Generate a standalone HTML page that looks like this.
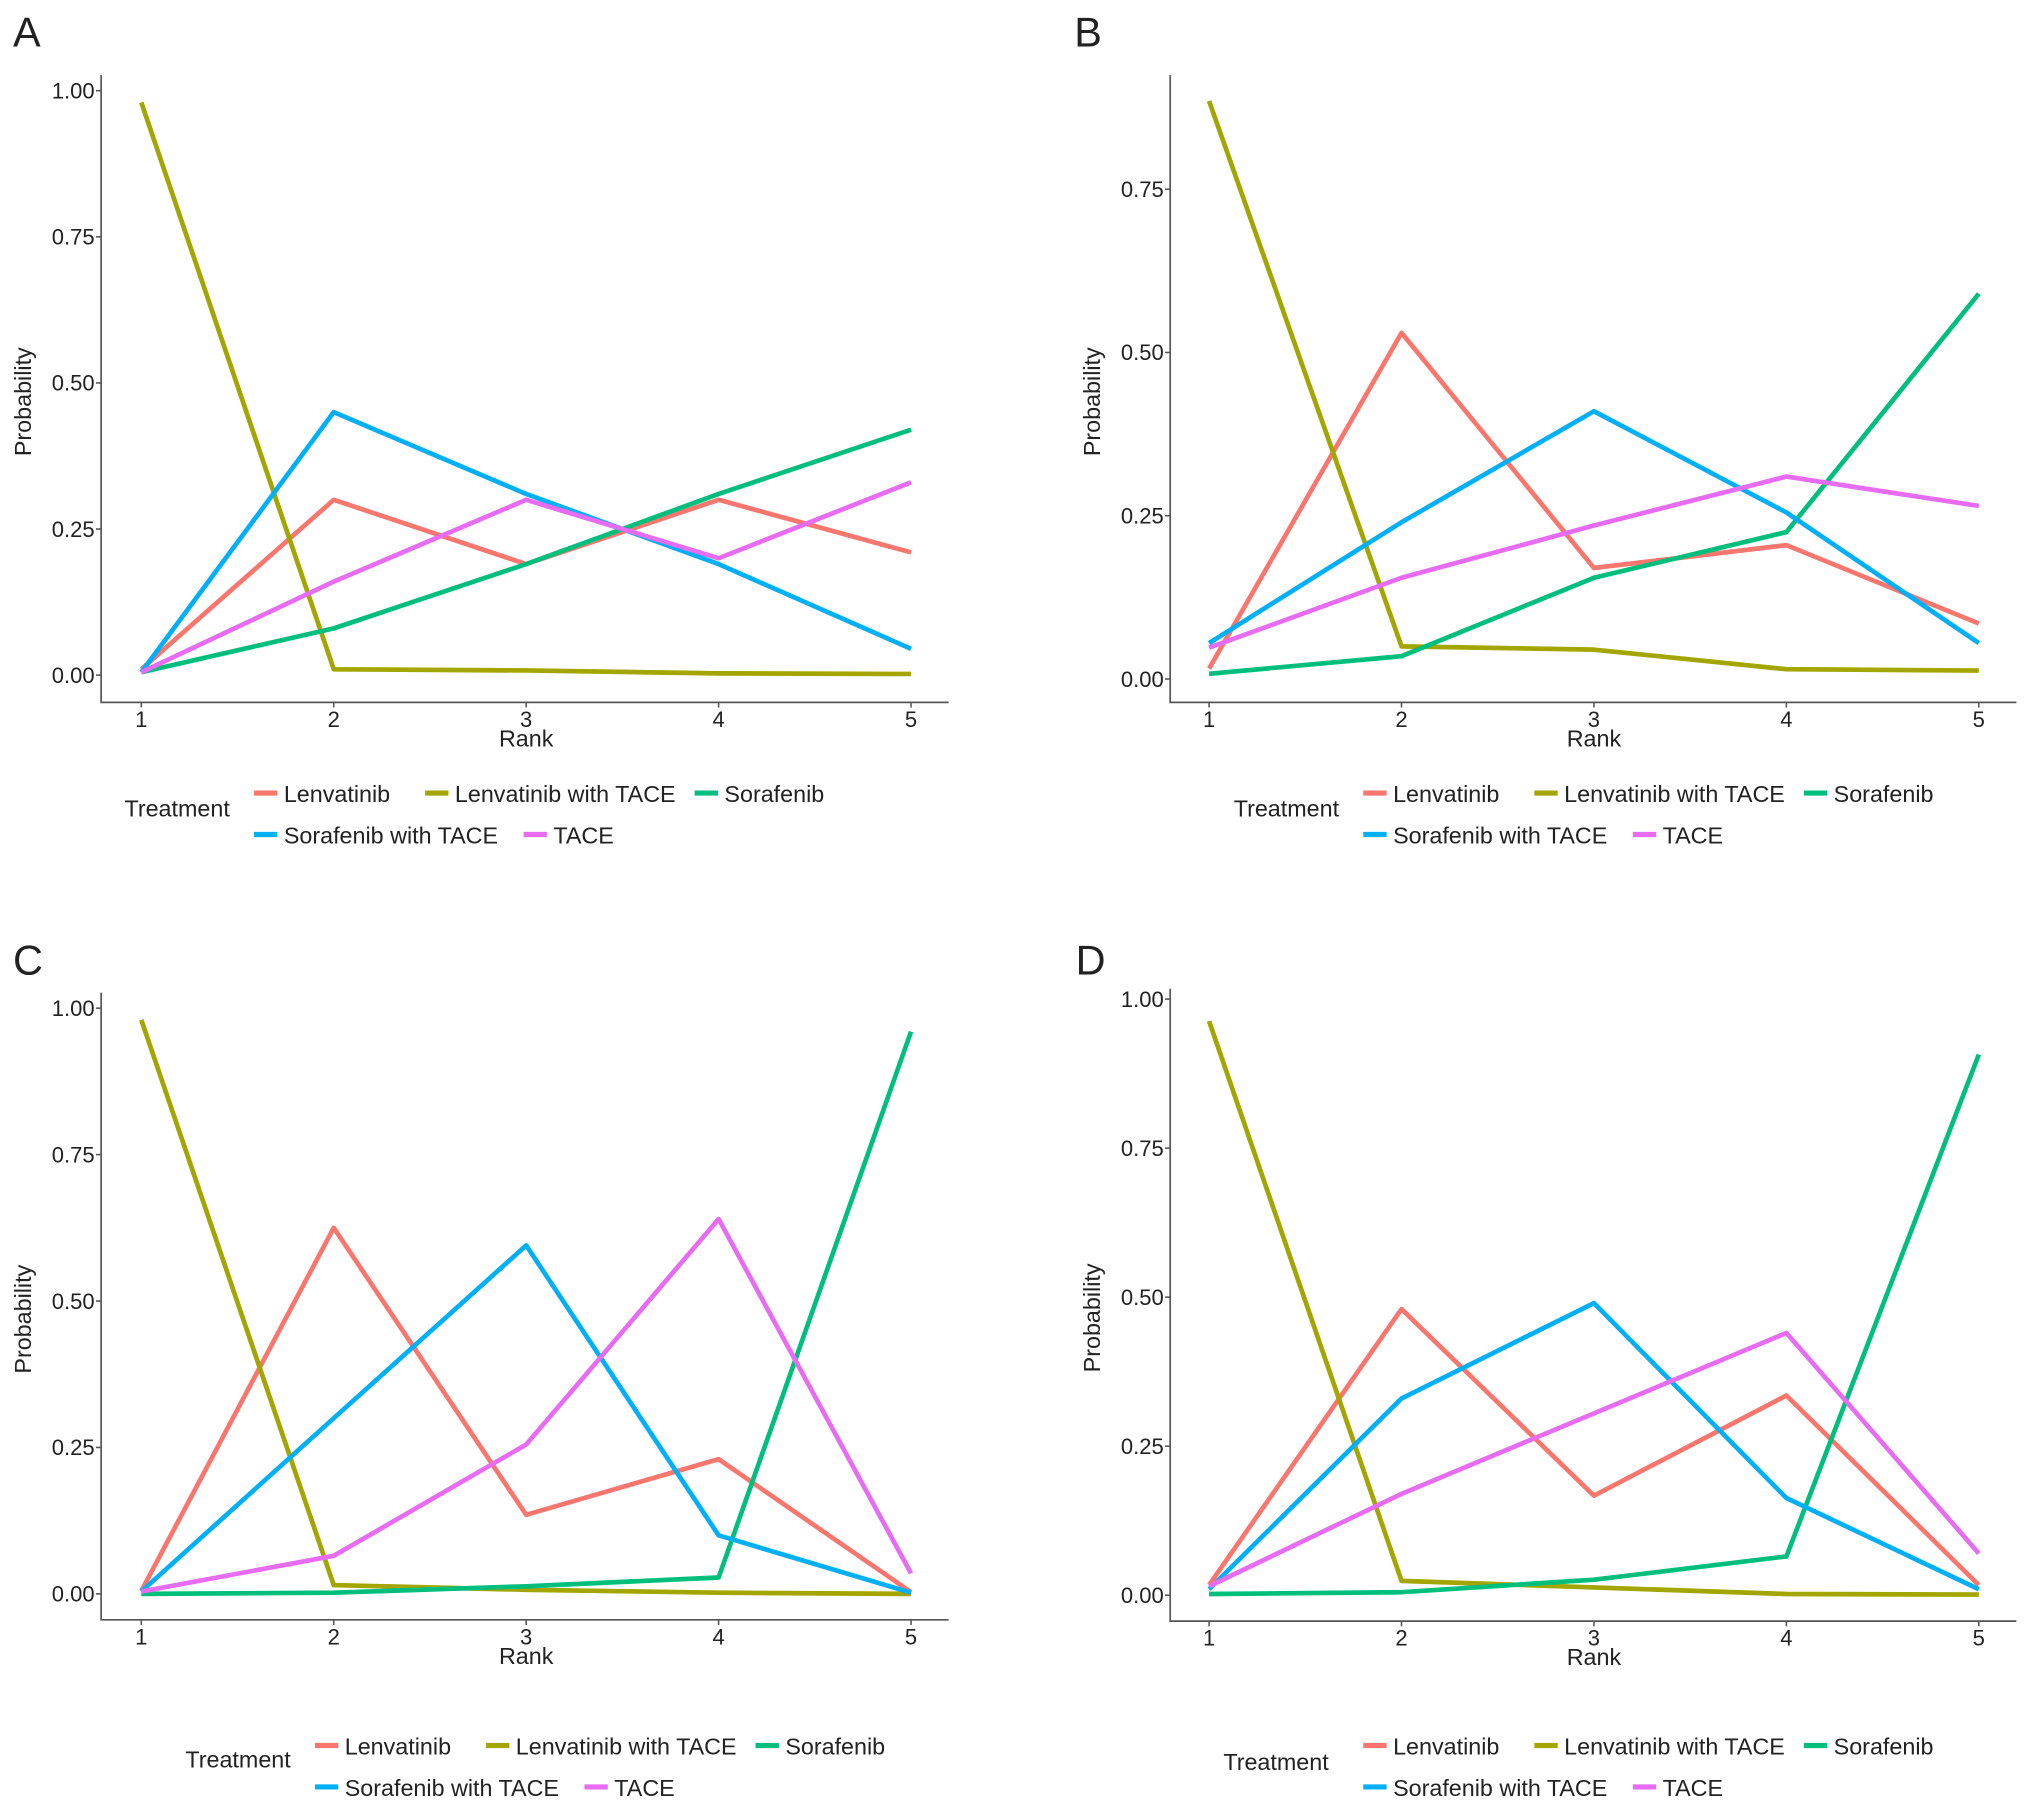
<!DOCTYPE html>
<html><head><meta charset="utf-8"><style>
html,body{margin:0;padding:0;background:#fff}
svg{display:block}
text{font-family:"Liberation Sans",sans-serif;fill:#222}
</style></head><body>
<svg id="fig" width="2032" height="1809" viewBox="0 0 1568 1396" xmlns="http://www.w3.org/2000/svg"></svg>
<script>
const ranks = [1, 2, 3, 4, 5];
const treatments = ["Lenvatinib", "Lenvatinib with TACE", "Sorafenib", "Sorafenib with TACE", "TACE"];
const colors = ["#F8766D", "#A3A500", "#00BF7D", "#00B0F6", "#E76BF3"];
const yTicksFull = [0, 0.25, 0.5, 0.75, 1.0];
const yTicksB = [0, 0.25, 0.5, 0.75];
// Panel A
const aLenvatinib = [0.01, 0.30, 0.19, 0.30, 0.21];
const aLenvTace = [0.98, 0.01, 0.008, 0.003, 0.002];
const aSorafenib = [0.005, 0.08, 0.19, 0.31, 0.42];
const aSoraTace = [0.005, 0.45, 0.31, 0.19, 0.045];
const aTace = [0.005, 0.16, 0.30, 0.20, 0.33];
// Panel B
const bLenvatinib = [0.016, 0.53, 0.17, 0.205, 0.085];
const bLenvTace = [0.885, 0.05, 0.045, 0.015, 0.013];
const bSorafenib = [0.008, 0.035, 0.155, 0.225, 0.59];
const bSoraTace = [0.055, 0.24, 0.41, 0.255, 0.055];
const bTace = [0.048, 0.155, 0.235, 0.31, 0.265];
// Panel C
const cLenvatinib = [0.005, 0.625, 0.135, 0.23, 0.003];
const cLenvTace = [0.98, 0.015, 0.007, 0.002, 0.0];
const cSorafenib = [0.0, 0.002, 0.013, 0.028, 0.96];
const cSoraTace = [0.004, 0.30, 0.595, 0.10, 0.002];
const cTace = [0.004, 0.065, 0.255, 0.64, 0.035];
// Panel D
const dLenvatinib = [0.017, 0.48, 0.167, 0.335, 0.017];
const dLenvTace = [0.963, 0.024, 0.013, 0.002, 0.001];
const dSorafenib = [0.002, 0.005, 0.026, 0.065, 0.907];
const dSoraTace = [0.01, 0.33, 0.49, 0.163, 0.01];
const dTace = [0.015, 0.17, 0.305, 0.44, 0.07];

const NS = "http://www.w3.org/2000/svg";
const svg = document.getElementById("fig");
function mk(tag, attrs, parent, txt) {
  const e = document.createElementNS(NS, tag);
  for (const k in attrs) e.setAttribute(k, attrs[k]);
  if (txt !== undefined) e.textContent = txt;
  parent.appendChild(e);
  return e;
}
const panels = [
  {id:"a", letter:"A", lx:10, ly:36, ax:78, ar:732, top:58, bot:542, x1:109, x5:703, y0:521, ppu:451, ticks:yTicksFull,
   series:[aLenvatinib,aLenvTace,aSorafenib,aSoraTace,aTace], tx:96, tY:630, kx:196, r1:612, r2:644},
  {id:"b", letter:"B", lx:829, ly:36, ax:903, ar:1556, top:58, bot:542, x1:933, x5:1527, y0:524, ppu:504, ticks:yTicksB,
   series:[bLenvatinib,bLenvTace,bSorafenib,bSoraTace,bTace], tx:952, tY:630, kx:1052, r1:612, r2:644},
  {id:"c", letter:"C", lx:10, ly:752, ax:78, ar:732, top:766, bot:1250, x1:109, x5:703, y0:1230, ppu:452, ticks:yTicksFull,
   series:[cLenvatinib,cLenvTace,cSorafenib,cSoraTace,cTace], tx:143, tY:1364, kx:243, r1:1347, r2:1379},
  {id:"d", letter:"D", lx:830, ly:752, ax:903, ar:1556, top:763, bot:1251, x1:933, x5:1527, y0:1231, ppu:460, ticks:yTicksFull,
   series:[dLenvatinib,dLenvTace,dSorafenib,dSoraTace,dTace], tx:944, tY:1366, kx:1052, r1:1347, r2:1379}
];
const legendOffsets = [[0,0],[132,0],[340,0],[0,1],[208,1]];
panels.forEach(p => {
  const g = mk("g", {}, svg);
  
  
  const xs = r => p.x1 + (r - 1) * (p.x5 - p.x1) / 4;
  const ys = v => p.y0 - v * p.ppu;
  const L = mk("text", {x:p.lx, y:p.ly, "font-size":32}, g, p.letter);
  
  
  const axes = mk("path", {d:`M${p.ax},${p.top} V${p.bot} H${p.ar}`, fill:"none", stroke:"#555", "stroke-width":1.3}, g);
  
  
  p.ticks.forEach(t => {
    mk("line", {x1:p.ax-4, x2:p.ax, y1:ys(t), y2:ys(t), stroke:"#555", "stroke-width":1.2}, g);
    const tl = mk("text", {x:p.ax-5, y:ys(t)+6, "font-size":17, "text-anchor":"end", fill:"#333"}, g, t.toFixed(2));
    
    
  });
  ranks.forEach(r => {
    mk("line", {x1:xs(r), x2:xs(r), y1:p.bot, y2:p.bot+4, stroke:"#555", "stroke-width":1.2}, g);
    const tl = mk("text", {x:xs(r), y:p.bot+19, "font-size":17, "text-anchor":"middle", fill:"#333"}, g, r);
    
    
  });
  const xt = mk("text", {x:(p.x1+p.x5)/2, y:p.bot+34, "font-size":18, "text-anchor":"middle"}, g, "Rank");
  
  
  const ymid = (p.top + p.bot) / 2 + 10;
  const yt = mk("text", {x:p.ax-54, y:ymid, "font-size":18, "text-anchor":"middle", transform:`rotate(-90 ${p.ax-54} ${ymid})`}, g, "Probability");
  
  
  p.series.forEach((vals, i) => {
    const pts = vals.map((v, k) => xs(ranks[k]) + "," + ys(v)).join(" ");
    const pl = mk("polyline", {points:pts, fill:"none", stroke:colors[i], "stroke-width":3.6, "stroke-linejoin":"round"}, g);
    
    
  });
  const tt = mk("text", {x:p.tx, y:p.tY, "font-size":18}, g, "Treatment");
  
  
  treatments.forEach((name, i) => {
    const [dx, row] = legendOffsets[i];
    const y = row ? p.r2 : p.r1;
    const kx = p.kx + dx;
    const le = mk("g", {}, g);
    
    
    mk("line", {x1:kx, x2:kx+18, y1:y, y2:y, stroke:colors[i], "stroke-width":4}, le);
    mk("text", {x:kx+23, y:y+7, "font-size":18}, le, name);
  });
});
</script>
</body></html>
